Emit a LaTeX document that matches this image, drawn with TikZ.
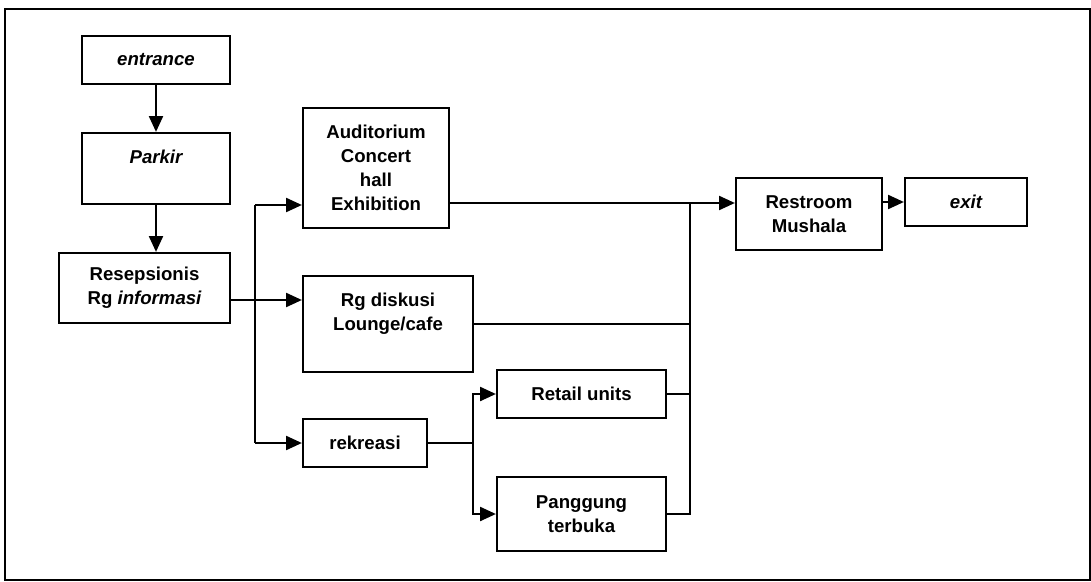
\documentclass[tikz,border=0pt]{standalone}
\usepackage{fontspec}
\setmainfont{Liberation Sans}
\usetikzlibrary{arrows.meta,positioning,calc}

\begin{document}
\begin{tikzpicture}[x=0.02cm,y=-0.02cm,
  box/.style={draw,line width=1.3pt,align=center,inner sep=0pt,
    font=\fontsize{10.6}{13.6}\selectfont\bfseries},
  link/.style={line width=1.1pt},
  flow/.style={link,-{Triangle[length=9pt,width=8pt]}},
  frame/.style={line width=1.6pt}]
  \useasboundingbox (0,0) rectangle (1091,581);
  \draw[frame] (5,9) rectangle (1090,580);
  % boxes
  \node[box,minimum width=2.96cm,minimum height=0.96cm] (entrance) at (156,60) {\itshape entrance};
  \node[box,minimum width=2.96cm,minimum height=1.42cm] (parkir) at (156,168.5) {\itshape Parkir\\~};
  \node[box,minimum width=3.42cm,minimum height=1.40cm] (resep) at (144.5,288) {Resepsionis\\Rg \itshape informasi};
  \node[box,minimum width=2.92cm,minimum height=2.40cm] (audit) at (376,168) {Auditorium\\Concert\\hall\\Exhibition};
  \node[box,minimum width=3.40cm,minimum height=1.92cm] (diskusi) at (388,324) {Rg diskusi\\Lounge/cafe\\~};
  \node[box,minimum width=2.48cm,minimum height=0.96cm] (rekreasi) at (365,443) {rekreasi};
  \node[box,minimum width=3.38cm,minimum height=0.96cm] (retail) at (581.5,394) {Retail units};
  \node[box,minimum width=3.38cm,minimum height=1.48cm] (panggung) at (581.5,514) {Panggung\\terbuka};
  \node[box,minimum width=2.92cm,minimum height=1.44cm] (restroom) at (809,214) {Restroom\\Mushala};
  \node[box,minimum width=2.44cm,minimum height=0.96cm] (exit) at (966,202) {\itshape exit};
  % routing points
  \coordinate (busTop) at (255,205);
  \coordinate (busBot) at (255,443);
  \coordinate (split) at (255,300);
  \coordinate (fork) at (473,443);
  \coordinate (join) at (690,203);
  % connectors
  \draw[flow] (entrance) -- (parkir);
  \draw[flow] (parkir.south) -- (parkir.south |- resep.north);
  \draw[flow] (split -| resep.east) -- (split -| diskusi.west);
  \draw[link] (busTop) -- (busBot);
  \draw[flow] (busTop) -- (busTop -| audit.west);
  \draw[flow] (busBot) -- (rekreasi.west);
  \draw[link] (rekreasi.east) -- (fork);
  \draw[flow] (fork) |- (retail.west);
  \draw[flow] (fork) |- (panggung.west);
  \draw[flow] (join -| audit.east) -- (join -| restroom.west);
  \draw[link] (diskusi.east) -| (join);
  \draw[link] (retail.east) -| (join);
  \draw[link] (panggung.east) -| (join);
  \draw[flow] (exit.west -| restroom.east) -- (exit.west);
\end{tikzpicture}
\end{document}
